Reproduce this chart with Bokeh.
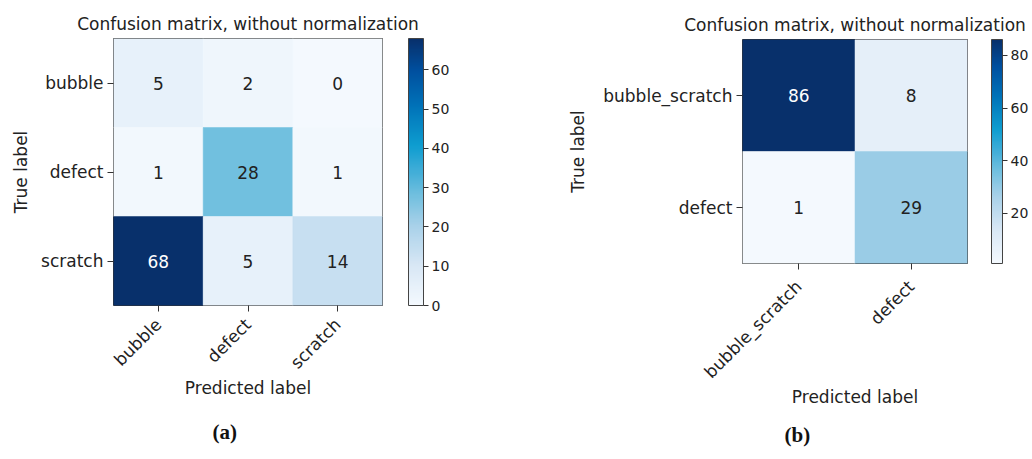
import numpy as np
from math import pi
from bokeh.plotting import figure
from bokeh.models import (ColumnDataSource, LinearColorMapper, ColorBar, Title,
                          BasicTicker)
from bokeh.layouts import row, column
from bokeh.embed import file_html
from bokeh.resources import INLINE
from bokeh.core.properties import value

try:
    from bokeh.models import ScrollBox
except Exception:
    ScrollBox = None

# ---------------- data ----------------
classes_a = ["bubble", "defect", "scratch"]
matrix_a = [[5, 2, 0],
            [1, 28, 1],
            [68, 5, 14]]

classes_b = ["bubble_scratch", "defect"]
matrix_b = [[86, 8],
            [1, 29]]

title_text = "Confusion matrix, without normalization"
x_label = "Predicted label"
y_label = "True label"
captions = ["(a)", "(b)"]

# ---------------- style ----------------
FONT = "DejaVu Sans"
TXT = "#222222"
anchors = [(0.0, "#f4f9fe"), (0.15, "#d8e7f5"), (0.3, "#a8d1e9"),
           (0.41, "#72c0df"), (0.5, "#42aed8"), (0.6, "#0e9dd0"),
           (0.75, "#0072b8"), (0.88, "#00509f"), (1.0, "#08306b")]


def build_palette(n=256):
    pos = np.array([a[0] for a in anchors])
    rgb = np.array([[int(c[i:i + 2], 16) for i in (1, 3, 5)] for _, c in anchors], dtype=float)
    out = []
    for v in np.linspace(0, 1, n):
        r, g, b = (np.interp(v, pos, rgb[:, k]) for k in range(3))
        out.append("#%02x%02x%02x" % (int(round(r)), int(round(g)), int(round(b))))
    return out


PALETTE = build_palette()


def make_panel(classes, matrix, caption, fw, fh, left, top, right, bottom,
               ylab_standoff, xtick_standoff, xlab_standoff, cb_gap, cb_width,
               cap_offset, cap_standoff):
    m = np.array(matrix)
    low, high = int(m.min()), int(m.max())
    thresh = high / 2.0
    xs, ys, vals, labels, colors = [], [], [], [], []
    for i, t in enumerate(classes):
        for j, pcls in enumerate(classes):
            v = matrix[i][j]
            xs.append(pcls)
            ys.append(t)
            vals.append(v)
            labels.append(str(v))
            colors.append("white" if v > thresh else TXT)
    src = ColumnDataSource(dict(x=xs, y=ys, v=vals, label=labels, color=colors))

    p = figure(frame_width=fw, frame_height=fh, x_range=classes,
               y_range=list(reversed(classes)), output_backend="svg",
               toolbar_location=None, title=title_text,
               min_border_left=left, min_border_top=top,
               min_border_right=right, min_border_bottom=bottom)
    mapper = LinearColorMapper(palette=PALETTE, low=low, high=high)
    p.rect(x="x", y="y", width=1, height=1, source=src,
           fill_color={"field": "v", "transform": mapper},
           line_color={"field": "v", "transform": mapper}, line_width=0.5)
    p.text(x="x", y="y", text="label", source=src, text_align="center",
           text_baseline="middle", text_font_size="17px",
           text_font=value(FONT), text_color="color")

    p.title.text_font = FONT
    p.title.text_font_size = "17px"
    p.title.text_font_style = "normal"
    p.title.text_color = TXT
    p.title.align = "center"

    p.outline_line_color = "#333333"
    p.outline_line_width = 1
    p.grid.visible = False
    p.background_fill_color = "white"
    p.border_fill_color = "white"

    for ax in (p.xaxis[0], p.yaxis[0]):
        ax.axis_line_color = None
        ax.major_tick_in = 0
        ax.major_tick_out = 6
        ax.major_tick_line_color = "#333333"
        ax.major_label_text_font = FONT
        ax.major_label_text_font_size = "17px"
        ax.major_label_text_color = TXT
        ax.axis_label_text_font = FONT
        ax.axis_label_text_font_size = "17px"
        ax.axis_label_text_font_style = "normal"
        ax.axis_label_text_color = TXT
    p.xaxis.axis_label = x_label
    p.yaxis.axis_label = y_label
    p.yaxis.major_label_standoff = 4
    p.xaxis.major_label_standoff = xtick_standoff
    p.xaxis.major_label_orientation = pi / 4
    p.xaxis.axis_label_standoff = xlab_standoff
    p.yaxis.axis_label_standoff = ylab_standoff

    cb = ColorBar(color_mapper=mapper, ticker=BasicTicker(desired_num_ticks=6),
                  width=cb_width, height=fh, margin=0, padding=0,
                  location=(cb_gap, 0),
                  bar_line_color="#444444", bar_line_width=1,
                  major_tick_in=0, major_tick_out=5,
                  major_tick_line_color="#333333",
                  major_label_text_font=FONT, major_label_text_font_size="14px",
                  major_label_text_color=TXT, label_standoff=3,
                  background_fill_color=None, border_line_color=None)
    p.add_layout(cb, "right")

    cap = Title(text=caption, align="left", offset=cap_offset,
                standoff=cap_standoff,
                text_font="Liberation Serif", text_font_size="21px",
                text_font_style="bold", text_color="#111111")
    p.add_layout(cap, "below")
    return p


pa = make_panel(classes_a, matrix_a, captions[0], 269, 267, 113, 38, 136, 150,
                7, 10, -5, 26, 15, 99, 35)
pb = make_panel(classes_b, matrix_b, captions[1], 225, 224, 224, 39, 62, 192,
                12, 14, -5, 24, 11, 42, 20)


def wrap(p, w, h):
    if ScrollBox is not None:
        try:
            return ScrollBox(child=p, width=w, height=h)
        except Exception:
            pass
    return column(p)


layout = row(wrap(pa, 518, 455), wrap(pb, 511, 455))
open("out.html", "w").write(file_html(layout, INLINE))
